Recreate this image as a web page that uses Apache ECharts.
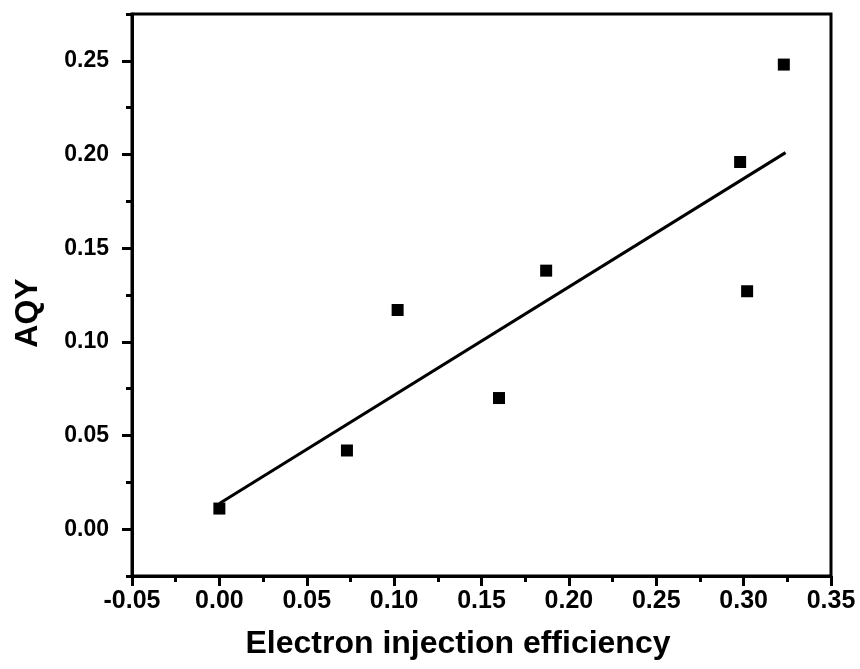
<!DOCTYPE html>
<html>
<head>
<meta charset="utf-8">
<script src="https://cdn.jsdelivr.net/npm/echarts@6/dist/echarts.min.js"></script>
<style>
  html, body { margin: 0; padding: 0; background: #fff; }
  #chart { width: 860px; height: 669px; }
</style>
</head>
<body>
<div id="chart"></div>
<script>
// measured points
var effX = [0.000, 0.073, 0.102, 0.160, 0.187, 0.298, 0.302, 0.323];
var aqy = [0.011, 0.042, 0.117, 0.070, 0.138, 0.196, 0.127, 0.248];
// linear fit line ends
var fitX = [0.000, 0.324];
var fitY = [0.0137, 0.201];
// y tick positions
var yMajor = [0, 0.05, 0.10, 0.15, 0.20, 0.25];
var yMinor = [-0.025, 0.025, 0.075, 0.125, 0.175, 0.225, 0.275];

var font = '"Liberation Sans", Arial, sans-serif';

var points = [];
for (var i = 0; i < effX.length; i++) {
  points.push([effX[i], aqy[i]]);
}
var fit = [];
for (var j = 0; j < fitX.length; j++) {
  fit.push([fitX[j], fitY[j]]);
}

var myChart = echarts.init(document.getElementById('chart'));
var option = {
  animation: false,
  backgroundColor: '#fff',
  grid: {
    left: 132,
    right: 29,
    top: 14,
    bottom: 93,
    show: true,
    borderColor: '#000',
    borderWidth: 3
  },
  xAxis: {
    type: 'value',
    min: -0.05,
    max: 0.35,
    interval: 0.05,
    axisLine: { show: true, onZero: false, lineStyle: { color: '#000', width: 3 } },
    axisTick: { show: true, inside: false, length: 10, lineStyle: { color: '#000', width: 3 } },
    minorTick: { show: true, splitNumber: 2, length: 6, lineStyle: { color: '#000', width: 3 } },
    splitLine: { show: false },
    axisLabel: {
      margin: 13,
      color: '#000',
      fontFamily: font,
      fontWeight: 'bold',
      fontSize: 25,
      formatter: function (v) { return v.toFixed(2); }
    }
  },
  yAxis: [
    {
      type: 'value',
      min: -0.025,
      max: 0.275,
      interval: 0.025,
      axisLine: { show: true, onZero: false, lineStyle: { color: '#000', width: 3 } },
      axisTick: { show: true, customValues: yMajor, length: 10, lineStyle: { color: '#000', width: 3 } },
      splitLine: { show: false },
      axisLabel: {
        customValues: yMajor,
        margin: 23,
        color: '#000',
        fontFamily: font,
        fontWeight: 'bold',
        fontSize: 23,
        formatter: function (v) { return v.toFixed(2); }
      }
    },
    {
      type: 'value',
      position: 'left',
      min: -0.025,
      max: 0.275,
      interval: 0.025,
      axisLine: { show: false, onZero: false },
      axisTick: { show: true, customValues: yMinor, length: 6, lineStyle: { color: '#000', width: 3 } },
      axisLabel: { show: false },
      splitLine: { show: false }
    }
  ],
  graphic: [
    {
      type: 'text',
      x: 458,
      y: 644,
      style: {
        text: 'Electron injection efficiency',
        font: 'bold 32px ' + font,
        fill: '#000',
        textAlign: 'center',
        textVerticalAlign: 'middle'
      }
    },
    {
      type: 'text',
      x: 28,
      y: 313,
      rotation: Math.PI / 2,
      style: {
        text: 'AQY',
        font: 'bold 32px ' + font,
        fill: '#000',
        textAlign: 'center',
        textVerticalAlign: 'middle'
      }
    }
  ],
  series: [
    {
      name: 'fit',
      type: 'line',
      data: fit,
      showSymbol: false,
      symbol: 'none',
      lineStyle: { color: '#000', width: 3 },
      z: 2
    },
    {
      name: 'AQY',
      type: 'scatter',
      data: points,
      symbol: 'rect',
      symbolSize: 12,
      itemStyle: { color: '#000', opacity: 1 },
      z: 3
    }
  ]
};
myChart.setOption(option);
</script>
</body>
</html>
